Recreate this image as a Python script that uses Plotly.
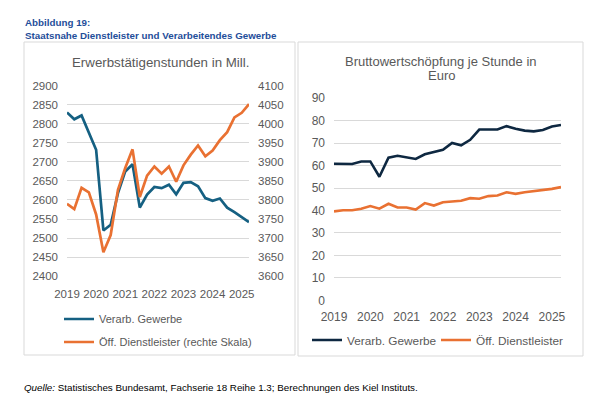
import plotly.graph_objects as go

# ---------------- data ----------------
quarters = ["2019Q1", "2019Q2", "2019Q3", "2019Q4",
            "2020Q1", "2020Q2", "2020Q3", "2020Q4",
            "2021Q1", "2021Q2", "2021Q3", "2021Q4",
            "2022Q1", "2022Q2", "2022Q3", "2022Q4",
            "2023Q1", "2023Q2", "2023Q3", "2023Q4",
            "2024Q1", "2024Q2", "2024Q3", "2024Q4",
            "2025Q1", "2025Q2"]
year_ticks = ["2019Q1", "2020Q1", "2021Q1", "2022Q1", "2023Q1", "2024Q1", "2025Q1"]
year_labels = ["2019", "2020", "2021", "2022", "2023", "2024", "2025"]

# Erwerbstätigenstunden in Mill.
hours_verarb = [2830, 2812, 2822, 2778, 2732, 2520, 2535, 2618, 2675, 2694,
                2580, 2614, 2634, 2631, 2640, 2615, 2645, 2647, 2636, 2605,
                2598, 2604, 2580, 2568, 2555, 2542]
hours_oeff = [3790, 3776, 3832, 3820, 3762, 3663, 3708, 3827, 3884, 3933,
              3808, 3864, 3888, 3869, 3888, 3848, 3891, 3919, 3943, 3915,
              3930, 3957, 3978, 4017, 4029, 4052]

# Bruttowertschöpfung je Stunde in Euro
bws_verarb = [60.8, 60.9, 60.7, 61.8, 61.8, 55.0, 63.5, 64.3, 63.6, 62.9,
              65.0, 66.0, 67.0, 70.0, 69.0, 71.4, 76.0, 76.0, 76.0, 77.5,
              76.3, 75.5, 75.2, 75.8, 77.3, 78.0]
bws_oeff = [39.6, 40.1, 40.1, 40.8, 42.0, 40.8, 43.0, 41.3, 41.3, 40.4,
            43.3, 42.2, 43.7, 44.0, 44.3, 45.5, 45.2, 46.4, 46.7, 48.1,
            47.4, 48.1, 48.6, 48.9, 49.6, 50.4]

# ---------------- helpers ----------------
W, H = 605, 395


def px(x):
    return x / W


def py(y):
    return 1 - y / H


GRAY = "#595959"
GRID = "#d9d9d9"
FONT = "Liberation Sans, Arial, sans-serif"

fig = go.Figure()
fig.add_trace(go.Scatter(x=quarters, y=hours_verarb, mode="lines", name="Verarb. Gewerbe",
                         line=dict(color="#156082", width=2.7), xaxis="x", yaxis="y",
                         legend="legend"))
fig.add_trace(go.Scatter(x=quarters, y=hours_oeff, mode="lines",
                         name="Öff. Dienstleister (rechte Skala)",
                         line=dict(color="#E97132", width=2.7), xaxis="x", yaxis="y2",
                         legend="legend2"))
fig.add_trace(go.Scatter(x=quarters, y=bws_verarb, mode="lines", name="Verarb. Gewerbe",
                         line=dict(color="#0E2841", width=2.6), xaxis="x2", yaxis="y3",
                         legend="legend3"))
fig.add_trace(go.Scatter(x=quarters, y=bws_oeff, mode="lines", name="Öff. Dienstleister",
                         line=dict(color="#E97132", width=2.6), xaxis="x2", yaxis="y3",
                         legend="legend4"))

tickfont_l = dict(family=FONT, size=11.5, color=GRAY)
tickfont_r = dict(family=FONT, size=12, color=GRAY)
leg_common = dict(xanchor="left", yanchor="middle", bgcolor="rgba(0,0,0,0)",
                  borderwidth=0)

fig.update_layout(
    width=W, height=H,
    margin=dict(l=0, r=0, t=0, b=0, autoexpand=False),
    paper_bgcolor="white", plot_bgcolor="rgba(0,0,0,0)",
    showlegend=True,
    xaxis=dict(domain=[px(59), px(241)], anchor="y", type="category",
               categoryorder="array", categoryarray=quarters,
               range=[0, 25], tickmode="array", tickvals=year_ticks, ticktext=year_labels,
               showgrid=False, zeroline=False, showline=False, ticks="",
               tickfont=tickfont_l, ticklabelstandoff=9, fixedrange=True),
    yaxis=dict(domain=[py(268.2), py(77.7)], anchor="x", range=[2399.9, 2900.1], dtick=50,
               tick0=2400, gridcolor=GRID, gridwidth=1, zeroline=False, showline=False,
               ticks="", tickfont=tickfont_l, ticklabelstandoff=8),
    yaxis2=dict(domain=[py(268.2), py(77.7)], anchor="x", overlaying="y", side="right",
                range=[3599.9, 4100.1], dtick=50, tick0=3600, showgrid=False,
                zeroline=False, showline=False, ticks="", tickfont=tickfont_l,
                ticklabelstandoff=8),
    xaxis2=dict(domain=[px(326), px(553)], anchor="y3", type="category",
                categoryorder="array", categoryarray=quarters,
                range=[0, 25], tickmode="array", tickvals=year_ticks, ticktext=year_labels,
                showgrid=False, zeroline=False, showline=False, ticks="",
                tickfont=tickfont_r, ticklabelstandoff=7),
    yaxis3=dict(domain=[py(292.5), py(90)], anchor="x2", range=[-0.01, 90.01], dtick=10,
                tick0=0, gridcolor=GRID, gridwidth=1, zeroline=False, showline=False,
                ticks="", tickfont=tickfont_r, ticklabelstandoff=8),
    legend=dict(x=px(51), y=py(311), font=dict(family=FONT, size=11, color=GRAY),
                **leg_common),
    legend2=dict(x=px(51), y=py(334), font=dict(family=FONT, size=11, color=GRAY),
                 **leg_common),
    legend3=dict(x=px(299), y=py(332), font=dict(family=FONT, size=11.8, color=GRAY),
                 **leg_common),
    legend4=dict(x=px(428), y=py(332), font=dict(family=FONT, size=11.8, color=GRAY),
                 **leg_common),
    shapes=[
        dict(type="rect", xref="paper", yref="paper", x0=px(16), x1=px(287),
             y0=py(347), y1=py(34), line=dict(color=GRID, width=1)),
        dict(type="rect", xref="paper", yref="paper", x0=px(290), x1=px(575),
             y0=py(348), y1=py(34), line=dict(color=GRID, width=1)),
    ],
    annotations=[
        dict(text="<b>Abbildung 19:</b>", x=px(15), y=py(15), xref="paper", yref="paper",
             xanchor="left", yanchor="middle", showarrow=False,
             font=dict(family=FONT, size=9.8, color="#1F4E9A")),
        dict(text="<b>Staatsnahe Dienstleister und Verarbeitendes Gewerbe</b>", x=px(15),
             y=py(27), xref="paper", yref="paper", xanchor="left", yanchor="middle",
             showarrow=False, font=dict(family=FONT, size=9.8, color="#1F4E9A")),
        dict(text="Erwerbstätigenstunden in Mill.", x=px(152), y=py(54), xref="paper",
             yref="paper", xanchor="center", yanchor="middle", showarrow=False,
             font=dict(family=FONT, size=13.3, color=GRAY)),
        dict(text="Bruttowertschöpfung je Stunde in", x=px(433), y=py(53), xref="paper",
             yref="paper", xanchor="center", yanchor="middle", showarrow=False,
             font=dict(family=FONT, size=13, color=GRAY)),
        dict(text="Euro", x=px(433), y=py(67.5), xref="paper",
             yref="paper", xanchor="center", yanchor="middle", showarrow=False,
             font=dict(family=FONT, size=13, color=GRAY)),
        dict(text="<i>Quelle:</i> Statistisches Bundesamt, Fachserie 18 Reihe 1.3; "
                  "Berechnungen des Kiel Instituts.",
             x=px(14), y=py(379), xref="paper", yref="paper", xanchor="left",
             yanchor="middle", showarrow=False,
             font=dict(family=FONT, size=9.8, color="#000000")),
    ],
)

fig.write_html("out.html")
